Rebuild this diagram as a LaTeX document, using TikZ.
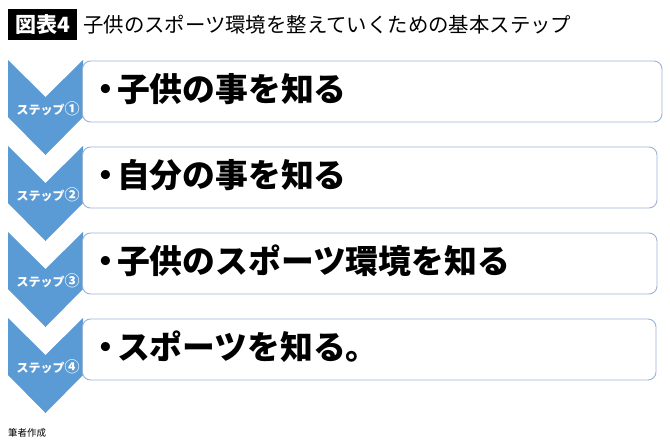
\documentclass[tikz,border=0pt]{standalone}
\usepackage{fontspec}
\newfontfamily\jp{Noto Sans CJK JP}
\definecolor{chev}{HTML}{5B9BD5}
\definecolor{boxline}{HTML}{9AB4D6}
\begin{document}
\begin{tikzpicture}[x=1pt,y=-1pt,
  chevron/.style={fill=chev,draw=none},
  stepbox/.style={draw=boxline,line width=0.9pt,rounded corners=8pt,fill=white},
  steplabel/.style={text=white,font=\jp\bfseries\fontsize{12}{12}\selectfont,inner sep=0pt},
  maintext/.style={anchor=west,font=\jp\bfseries\fontsize{32.8}{32.8}\selectfont,inner sep=0pt}]
\useasboundingbox[fill=white] (0,0) rectangle (670,440);
% title
\node[fill=black,minimum width=69pt,minimum height=31pt,inner sep=0pt,anchor=north west,
  text=white,font=\jp\bfseries\fontsize{21}{21}\selectfont] (tag) at (8,9) {図表4};
\node[anchor=west,inner sep=0pt,font=\jp\fontsize{20.4}{20.4}\selectfont] (title) at (83,24.5)
  {子供のスポーツ環境を整えていくための基本ステップ};
% chevrons and boxes
\foreach \k/\r/\lab/\txt in {0/662/①/子供の事を知る,1/657/②/自分の事を知る,2/657/③/子供のスポーツ環境を知る,3/656/④/スポーツを知る。}{
  \pgfmathsetmacro{\T}{60+86*\k}
  \fill[chevron] (8,\T) -- (45.5,\T+37) -- (83,\T) -- (83,\T+57) -- (45.5,\T+95) -- (8,\T+57) -- cycle;
  \draw[stepbox] (82.5,\T+1) rectangle (\r,\T+62);
  \node[steplabel] (s\k) at (48,\T+48.5) {ステップ{\fontsize{15}{15}\selectfont\lab}};
  \node[maintext] (m\k) at (89,\T+29) {・\kern-5pt\txt};
}
\node[anchor=west,inner sep=0pt,font=\jp\fontsize{9.5}{9.5}\selectfont] (src) at (8,433) {筆者作成};
\end{tikzpicture}
\end{document}
